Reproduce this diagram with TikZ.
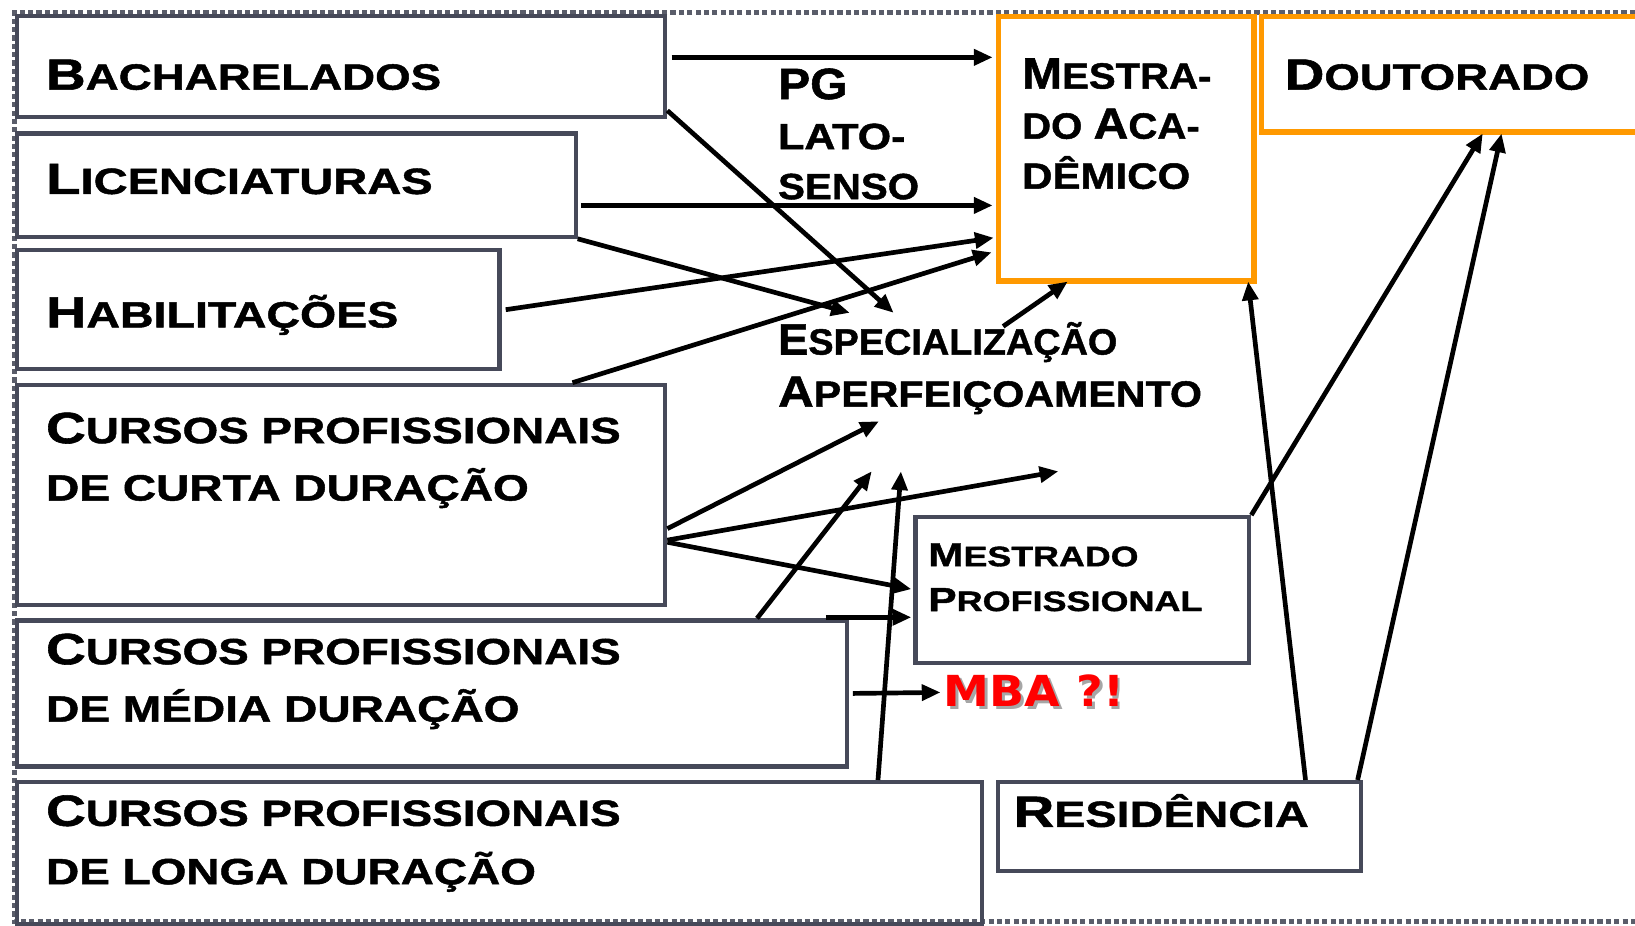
\documentclass[tikz,border=0pt]{standalone}
\usepackage{fontspec}
\usepackage{graphicx}
\newfontfamily\cop{Liberation Sans}[FakeStretch=1.24, BoldFeatures={FakeBold=1.3}]
\newfontfamily\mbafont{DejaVu Sans}
\usetikzlibrary{arrows.meta}
\definecolor{boxgray}{HTML}{464959}
\definecolor{orng}{HTML}{FF9900}
\definecolor{framegray}{HTML}{5A5D6A}
\newcommand\Cp[1]{{\fontsize{42}{42}\selectfont #1}}
\newcommand\Cs[1]{{\fontsize{32}{32}\selectfont #1}}
\newcommand\sx[2]{\hbox{\scalebox{#1}[1]{#2}}}
\tikzset{
 gbox/.style={draw=boxgray, line width=4pt, anchor=north west, inner sep=0pt},
 obox/.style={draw=orng, line width=5pt, anchor=north west, inner sep=0pt},
 lbl/.style={anchor=base west, inner sep=0pt, font=\cop\bfseries\fontsize{35}{35}\selectfont},
 slbl/.style={anchor=base west, inner sep=0pt, font=\cop\bfseries\fontsize{27}{27}\selectfont},
 arr/.style={line width=4.5pt, -{Triangle[length=18pt,width=15pt]}},
}
\begin{document}
\begin{tikzpicture}[x=1pt,y=-1pt]
\useasboundingbox (0,0) rectangle (1568,888);
\clip (0,0) rectangle (1568,888);
\fill[white] (0,0) rectangle (1568,888);
% outer dotted frame
\draw[framegray, line width=5pt, dash pattern=on 5pt off 3pt] (1600,12) -- (14,12) -- (14,884) -- (1600,884);
% boxes
\node[gbox, minimum width=622pt, minimum height=97pt] (bach) at (14,13) {};
\node[gbox, minimum width=536pt, minimum height=99pt] (lic) at (14,126) {};
\node[gbox, minimum width=463pt, minimum height=114pt] (hab) at (14,238) {};
\node[gbox, minimum width=622pt, minimum height=211pt] (cur) at (14,367) {};
\node[gbox, minimum width=796pt, minimum height=140pt] (med) at (14,593) {};
\node[gbox, minimum width=926pt, minimum height=136pt] (lon) at (14,748) {};
\node[gbox, minimum width=320pt, minimum height=140pt] (mprof) at (876,494) {};
\node[gbox, minimum width=348pt, minimum height=85pt] (res) at (955,748) {};
\node[obox, minimum width=245pt, minimum height=254pt] (macad) at (955,13) {};
\node[obox, minimum width=380pt, minimum height=111pt] (dout) at (1207,13) {};
% texts
\node[lbl] (bacht) at (44,86) {\sx{1.01}{\Cp{B}ACHARELADOS}};
\node[lbl] (lict) at (44,186) {\sx{1.04}{\Cp{L}ICENCIATURAS}};
\node[lbl] (habt) at (44,314) {\sx{1.028}{\Cp{H}ABILITAÇÕES}};
\node[lbl] (curt) at (44,425) {\vtop{\lineskiplimit=-100pt\baselineskip=55pt\sx{1.013}{\Cp{C}URSOS PROFISSIONAIS}\sx{1.018}{DE CURTA DURAÇÃO}}};
\node[lbl] (medt) at (44,637) {\vtop{\lineskiplimit=-100pt\baselineskip=55pt\sx{1.013}{\Cp{C}URSOS PROFISSIONAIS}\sx{1.018}{DE MÉDIA DURAÇÃO}}};
\node[lbl] (lont) at (44,792) {\vtop{\lineskiplimit=-100pt\baselineskip=56pt\sx{1.013}{\Cp{C}URSOS PROFISSIONAIS}\sx{1.015}{DE LONGA DURAÇÃO}}};
\node[lbl] (pgt) at (746,95) {\vtop{\lineskiplimit=-100pt\baselineskip=48pt\sx{0.886}{\Cp{PG}}\sx{0.95}{LATO-}\sx{0.89}{SENSO}}};
\node[lbl] (macadt) at (980,85) {\vtop{\lineskiplimit=-100pt\baselineskip=48pt\sx{0.886}{\Cp{M}ESTRA-}\sx{0.888}{DO \Cp{A}CA-}\sx{0.929}{DÊMICO}}};
\node[lbl] (doutt) at (1232,86) {\sx{1.007}{\Cp{D}OUTORADO}};
\node[lbl] (espt) at (746,340) {\vtop{\lineskiplimit=-100pt\baselineskip=50pt\sx{0.836}{\Cp{E}SPECIALIZAÇÃO}\sx{0.91}{\Cp{A}PERFEIÇOAMENTO}}};
\node[slbl] (mproft) at (890,543) {\vtop{\lineskiplimit=-100pt\baselineskip=43pt\sx{1.025}{\Cs{M}ESTRADO}\sx{1.03}{\Cs{P}ROFISSIONAL}}};
\node[lbl] (rest) at (972,793) {\sx{1.033}{\Cp{R}ESIDÊNCIA}};
\node[anchor=base west, inner sep=0pt, font=\mbafont\bfseries\fontsize{41}{41}\selectfont, text=red] (mba) at (905,678) {\scalebox{1.077}[1]{\rlap{\kern2.5pt\lower2.5pt\hbox{\color{gray!70}MBA ?!}}MBA ?!}};
% helper coordinates
\coordinate (h1) at (0,55);
\coordinate (h3) at (0,197);
\coordinate (h5) at (0,297);
\coordinate (h8) at (0,507);
\coordinate (h9) at (0,518);
\coordinate (h10) at (0,520);
\coordinate (h12) at (0,592);
\coordinate (e2) at (857,300);
\coordinate (e4) at (815,300);
\coordinate (e5) at (953,228);
\coordinate (e6) at (951,242);
\coordinate (s7) at (962,313);
\coordinate (e7) at (1024,270);
\coordinate (e8) at (843,404);
\coordinate (e9) at (1015,452);
\coordinate (e10) at (874,565);
\coordinate (e11) at (836,452);
\coordinate (e14) at (864,452);
\coordinate (e15) at (1422,128);
\coordinate (e16) at (1197,270);
\coordinate (e17) at (1440,128);
% arrows
\draw[arr] ([xshift=4pt]bach.east |- h1) -- ([xshift=-3pt]macad.west |- h1);
\draw[arr] ([yshift=8pt]bach.south east) -- (e2);
\draw[arr] ([xshift=3pt]lic.east |- h3) -- ([xshift=-3pt]macad.west |- h3);
\draw[arr] (lic.south east) -- (e4);
\draw[arr] ([xshift=4pt]hab.east |- h5) -- (e5);
\draw[arr] ([xshift=-91pt]cur.north east) -- (e6);
\draw[arr] (s7) -- (e7);
\draw[arr] (cur.east |- h8) -- (e8);
\draw[arr] (cur.east |- h9) -- (e9);
\draw[arr] (cur.east |- h10) -- (e10);
\draw[arr] ([xshift=-88pt]med.north east) -- (e11);
\draw[arr] ([xshift=-22pt]med.north east |- h12) -- ([xshift=-2pt]mprof.west |- h12);
\draw[arr] ([xshift=4pt]med.east) -- ([xshift=-3pt]mba.west);
\draw[arr] ([xshift=-102pt]lon.north east) -- (e14);
\draw[arr] (mprof.north east) -- (e15);
\draw[arr] ([xshift=-55pt]res.north east) -- (e16);
\draw[arr] ([xshift=-5pt]res.north east) -- (e17);
\end{tikzpicture}
\end{document}
